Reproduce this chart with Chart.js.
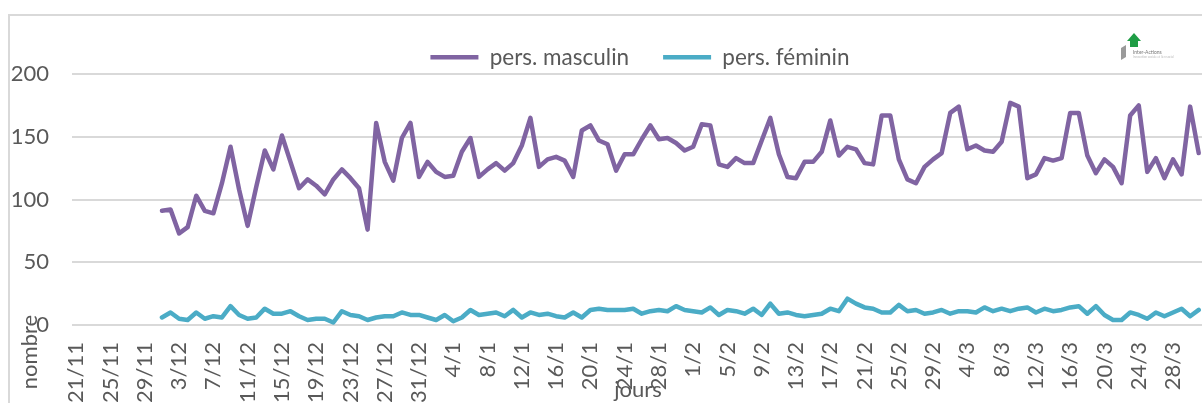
<!DOCTYPE html>
<html>
<head>
<meta charset="utf-8">
<script src="https://cdn.jsdelivr.net/npm/chart.js@4"></script>
<style>
  html, body { margin: 0; padding: 0; background: #fff; overflow: hidden; }
  #wrap { position: relative; width: 1202px; height: 403px; overflow: hidden; }
  #frame { position: absolute; left: 8px; top: 14px; width: 1300px; height: 500px; border: 2px solid #d9d9d9; box-sizing: border-box; }
  #box { position: absolute; left: 0; top: 0; width: 1280px; height: 403px; }
</style>
</head>
<body>
<div id="wrap">
  <div id="frame"></div>
  <div id="box"><canvas id="chart"></canvas></div>
</div>
<script>
// days on the axis: 21/11 .. 31/3
const months = [[11, 21, 30], [12, 1, 31], [1, 1, 31], [2, 1, 29], [3, 1, 31]]
const days = []
months.forEach(([m, from, to]) => {
    for (let d = from; d <= to; d++) days.push(`${d}/${m}`)
})

// series start on 1/12
const firstDay = '1/12'

const masculin = [
    91, 92, 73, 78, 103, 91, 89, 113, 142, 108,
    79, 110, 139, 124, 151, 130, 109, 116, 111, 104,
    116, 124, 117, 109, 76, 161, 130, 115, 149, 161,
    118, 130, 122, 118, 119, 138, 149, 118, 124, 129,
    123, 129, 143, 165, 126, 132, 134, 131, 118, 155,
    159, 147, 144, 123, 136, 136, 148, 159, 148, 149,
    145, 139, 142, 160, 159, 128, 126, 133, 129, 129,
    147, 165, 136, 118, 117, 130, 130, 138, 163, 135,
    142, 140, 129, 128, 167, 167, 132, 116, 113, 126,
    132, 137, 169, 174, 140, 143, 139, 138, 146, 177,
    174, 117, 120, 133, 131, 133, 169, 169, 135, 121,
    132, 126, 113, 167, 175, 122, 133, 117, 132, 120,
    174, 137
]

const feminin = [
    6, 10, 5, 4, 10, 5, 7, 6, 15, 8,
    5, 6, 13, 9, 9, 11, 7, 4, 5, 5,
    2, 11, 8, 7, 4, 6, 7, 7, 10, 8,
    8, 6, 4, 8, 3, 6, 12, 8, 9, 10,
    7, 12, 6, 10, 8, 9, 7, 6, 10, 6,
    12, 13, 12, 12, 12, 13, 9, 11, 12, 11,
    15, 12, 11, 10, 14, 8, 12, 11, 9, 13,
    8, 17, 9, 10, 8, 7, 8, 9, 13, 11,
    21, 17, 14, 13, 10, 10, 16, 11, 12, 9,
    10, 12, 9, 11, 11, 10, 14, 11, 13, 11,
    13, 14, 10, 13, 11, 12, 14, 15, 9, 15,
    8, 4, 4, 10, 8, 5, 10, 7, 10, 13,
    7, 12
]

const textColor = '#595959'
const font = {family: 'Lato', size: 22}
const lead = Array(days.indexOf(firstDay)).fill(null)

// axis titles sit over the tick labels, as in the original sheet
const axisTitles = {
    id: 'axisTitles',
    afterDraw(chart) {
        const ctx = chart.ctx
        ctx.save()
        ctx.fillStyle = textColor
        ctx.font = '22px Lato'
        ctx.textAlign = 'center'
        ctx.textBaseline = 'alphabetic'
        ctx.fillText('jours', 638, 397)
        ctx.translate(37, 352)
        ctx.rotate(-Math.PI / 2)
        ctx.fillText('nombre', 0, 0)
        ctx.restore()
    }
}

// small logo in the top right corner
const logo = {
    id: 'logo',
    afterDraw(chart) {
        const ctx = chart.ctx
        ctx.save()
        ctx.fillStyle = '#1f9d45'
        ctx.beginPath()
        ctx.moveTo(1127, 41)
        ctx.lineTo(1134, 33)
        ctx.lineTo(1141, 41)
        ctx.lineTo(1138, 41)
        ctx.lineTo(1138, 47)
        ctx.lineTo(1130, 47)
        ctx.lineTo(1130, 41)
        ctx.closePath()
        ctx.fill()
        ctx.fillStyle = '#9a9a9a'
        ctx.beginPath()
        ctx.moveTo(1121, 48)
        ctx.lineTo(1126, 45)
        ctx.lineTo(1126, 57)
        ctx.lineTo(1121, 60)
        ctx.closePath()
        ctx.fill()
        ctx.fillStyle = '#777'
        ctx.font = '5px Lato'
        ctx.fillText('Inter-Actions', 1133, 52)
        ctx.fillStyle = '#bbb'
        ctx.font = '3px Lato'
        ctx.fillText('Innovation sociale et lien social', 1133, 57)
        ctx.restore()
    }
}

new Chart(document.getElementById('chart'), {
    type: 'line',
    data: {
        labels: days,
        datasets: [
            {
                label: 'pers. masculin',
                data: [...lead, ...masculin],
                borderColor: '#8064a2',
                backgroundColor: '#8064a2',
                borderWidth: 4.5,
            },
            {
                label: 'pers. féminin',
                data: [...lead, ...feminin],
                borderColor: '#4bacc6',
                backgroundColor: '#4bacc6',
                borderWidth: 4.5,
            },
        ]
    },
    options: {
        responsive: true,
        maintainAspectRatio: false,
        animation: false,
        layout: {padding: {left: 0, right: 0, top: 12, bottom: 0}},
        elements: {
            point: {radius: 0},
            line: {tension: 0, borderJoinStyle: 'round', borderCapStyle: 'round'}
        },
        plugins: {
            legend: {
                position: 'top',
                maxHeight: 62,
                labels: {
                    usePointStyle: true,
                    pointStyle: 'line',
                    pointStyleWidth: 48,
                    padding: 34,
                    color: textColor,
                    font: {family: 'Lato', size: 22.5}
                }
            },
            tooltip: {enabled: false}
        },
        scales: {
            x: {
                offset: true,
                grid: {display: false},
                border: {display: false},
                ticks: {
                    autoSkip: false,
                    minRotation: 90,
                    maxRotation: 90,
                    padding: 9,
                    color: textColor,
                    font: font,
                    callback(value, index) {
                        return index % 4 === 0 ? this.getLabelForValue(value) : ''
                    }
                },
                afterFit(scale) {
                    scale.height = 78
                }
            },
            y: {
                min: 0,
                max: 200,
                border: {display: false},
                grid: {color: '#d9d9d9', lineWidth: 2, drawTicks: false},
                ticks: {stepSize: 50, padding: 23, color: textColor, font: font},
                afterFit(scale) {
                    scale.width = 72
                }
            },
            // empty right-hand space so the plot ends at the window edge
            spacer: {
                position: 'right',
                grid: {display: false},
                border: {display: false},
                ticks: {display: false},
                afterFit(scale) {
                    scale.width = 77
                }
            }
        }
    },
    plugins: [axisTitles, logo]
});
</script>
</body>
</html>
